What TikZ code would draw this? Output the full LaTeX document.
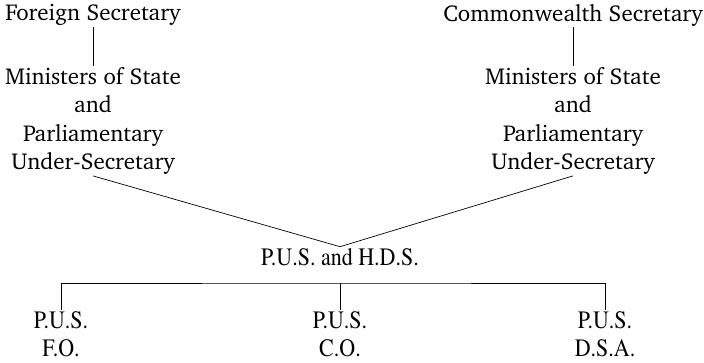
\documentclass[tikz,border=0pt]{standalone}
\usepackage[T1]{fontenc}
\usepackage{graphicx}
\usepackage{tikz}
\newcommand\topfont{\fontencoding{T1}\fontfamily{bch}\fontsize{23}{28.5}\selectfont}
\newcommand\botfont{\fontencoding{T1}\fontfamily{ptm}\fontsize{25}{28}\selectfont}
\newcommand\narrow[1]{\scalebox{0.88}[1]{#1}}
\tikzset{
  post/.style={inner sep=1pt, align=center, font=\topfont},
  office/.style={inner sep=1.5pt, align=center, font=\botfont},
  link/.style={draw, line width=0.7pt},
}

\begin{document}
\begin{tikzpicture}[x=1pt, y=-1pt]
  \useasboundingbox (0,0) rectangle (704,363);

  \node[post] (fs) at (93,15) {Foreign Secretary};
  \node[post] (cs) at (573,15) {Commonwealth Secretary};
  \node[post] (ms1) at (93,121) {Ministers of State\\and\\Parliamentary\\Under-Secretary};
  \node[post] (ms2) at (573,121) {Ministers of State\\and\\Parliamentary\\Under-Secretary};

  \node[office] (pus) at (340,257) {\narrow{P.U.S. and H.D.S.}};
  \node[office] (pfo) at (61,334) {\narrow{P.U.S.}\\\narrow{F.O.}};
  \node[office] (pco) at (340,334) {\narrow{P.U.S.}\\\narrow{C.O.}};
  \node[office] (pdsa) at (605,334) {\narrow{P.U.S.}\\\narrow{D.S.A.}};
  \coordinate (bar) at (340,283);

  \draw[link] (fs.south) -- (ms1.north);
  \draw[link] (cs.south) -- (ms2.north);
  \draw[link] (ms1.south) -- (pus.north) -- (ms2.south);
  \draw[link] (bar) -- (pco.north);
  \draw[link] (pfo.north) |- (bar) -| (pdsa.north);
\end{tikzpicture}
\end{document}
